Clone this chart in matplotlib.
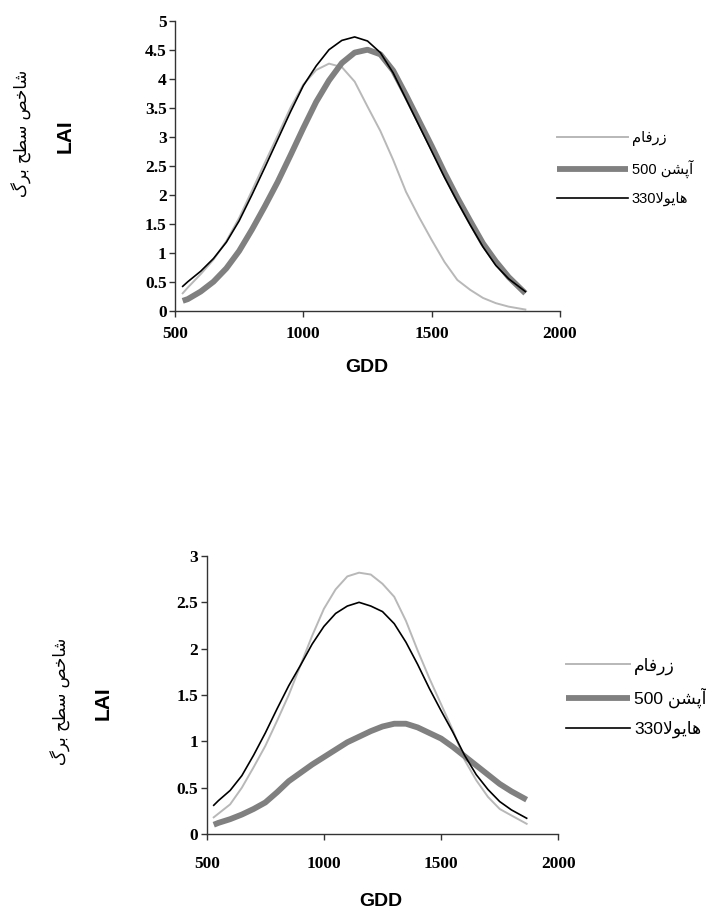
import matplotlib
matplotlib.use("Agg")
import matplotlib.pyplot as plt

# GDD points (same grid for both charts)
gdd = [530, 550, 600, 650, 700, 750, 800, 850, 900, 950, 1000, 1050, 1100, 1150,
       1200, 1250, 1300, 1350, 1400, 1450, 1500, 1550, 1600, 1650, 1700, 1750, 1800, 1865]

# top chart
top_zarfam = [0.30, 0.40, 0.63, 0.88, 1.20, 1.60, 2.07, 2.55, 3.02, 3.50, 3.90, 4.15, 4.26, 4.20,
              3.95, 3.52, 3.10, 2.60, 2.05, 1.62, 1.22, 0.84, 0.53, 0.36, 0.22, 0.13, 0.07, 0.02]
top_option = [0.17, 0.20, 0.33, 0.50, 0.73, 1.03, 1.40, 1.80, 2.22, 2.68, 3.15, 3.60, 3.97, 4.27,
              4.45, 4.50, 4.42, 4.14, 3.72, 3.28, 2.84, 2.38, 1.95, 1.55, 1.16, 0.85, 0.58, 0.30]
top_hy330 = [0.42, 0.50, 0.68, 0.90, 1.18, 1.55, 2.00, 2.47, 2.95, 3.43, 3.88, 4.22, 4.50, 4.66,
             4.72, 4.65, 4.45, 4.10, 3.65, 3.20, 2.75, 2.30, 1.88, 1.48, 1.10, 0.78, 0.55, 0.33]

# bottom chart
bot_zarfam = [0.18, 0.22, 0.32, 0.50, 0.72, 0.95, 1.22, 1.50, 1.82, 2.14, 2.43, 2.64, 2.78, 2.82,
              2.80, 2.70, 2.56, 2.30, 1.98, 1.68, 1.40, 1.12, 0.80, 0.58, 0.40, 0.27, 0.20, 0.11]
bot_option = [0.10, 0.12, 0.16, 0.21, 0.27, 0.34, 0.45, 0.57, 0.66, 0.75, 0.83, 0.91, 0.99, 1.05,
              1.11, 1.16, 1.19, 1.19, 1.15, 1.09, 1.03, 0.94, 0.84, 0.74, 0.64, 0.54, 0.46, 0.37]
bot_hy330 = [0.31, 0.36, 0.47, 0.63, 0.85, 1.09, 1.35, 1.60, 1.82, 2.05, 2.24, 2.38, 2.46, 2.50,
             2.46, 2.40, 2.27, 2.07, 1.83, 1.57, 1.33, 1.10, 0.85, 0.64, 0.48, 0.35, 0.26, 0.17]

# persian labels, written in presentation forms / visual order
lbl_zarfam = "\uFEE1\uFE8E\uFED3\uFEAD\uFEAF"
lbl_option = "500 \uFEE6\uFEB8\uFB58\uFE81"
lbl_hy330 = "330\uFEFB\uFEEE\uFEF3\uFE8E\uFEEB"
ylabel_fa = "\uFB92\uFEAE\uFE91 \uFEA2\uFEC4\uFEB3 \uFEBA\uFEA7\uFE8E\uFEB7"

W, H = 706, 914
fig = plt.figure(figsize=(W / 100, H / 100), dpi=100)


def px_axes(left, top, right, bottom):
    return fig.add_axes([left / W, 1 - bottom / H, (right - left) / W, (bottom - top) / H])


def draw_chart(ax, zarfam, option, hy330, ymax, xpad, leg, lai_xy, fa_xy, gdd_xy):
    l1, = ax.plot(gdd, zarfam, color="#b8b8b8", lw=1.4)
    l2, = ax.plot(gdd, option, color="#808080", lw=4.2, solid_capstyle="butt")
    l3, = ax.plot(gdd, hy330, color="black", lw=1.2)
    ax.set_xlim(500, 2000)
    ax.set_ylim(0, ymax)
    ax.set_xticks([500, 1000, 1500, 2000])
    ticks = [i * 0.5 for i in range(int(ymax * 2) + 1)]
    ax.set_yticks(ticks)
    ax.set_yticklabels([("%g" % t) for t in ticks])
    for s in ["top", "right"]:
        ax.spines[s].set_visible(False)
    for s in ["left", "bottom"]:
        ax.spines[s].set_color("#333333")
        ax.spines[s].set_linewidth(1.0)
    ax.tick_params(direction="out", length=4, width=1, color="#333333")
    ax.tick_params(axis="x", pad=xpad)
    ax.tick_params(axis="y", pad=2)
    for t in ax.get_xticklabels() + ax.get_yticklabels():
        t.set_fontfamily("Liberation Serif")
        t.set_fontweight("bold")
        t.set_fontsize(12.5)
    ax.set_facecolor("none")

    lx, ly, lsize, hlen, lspace = leg
    fig.legend([l1, l2, l3], [lbl_zarfam, lbl_option, lbl_hy330],
               loc="upper left", bbox_to_anchor=(lx / W, 1 - ly / H),
               frameon=False, borderpad=0, borderaxespad=0, handlelength=hlen,
               handletextpad=0.25, labelspacing=lspace,
               prop={"family": ["Liberation Sans", "DejaVu Sans"], "size": lsize})

    fig.text(lai_xy[0] / W, 1 - lai_xy[1] / H, "LAI", rotation=90, ha="center", va="center",
             family="Liberation Sans", fontweight="bold", fontsize=15)
    fig.text(fa_xy[0] / W, 1 - fa_xy[1] / H, ylabel_fa, rotation=90, ha="center", va="center",
             family="DejaVu Sans", fontsize=12)
    fig.text(gdd_xy[0] / W, 1 - gdd_xy[1] / H, "GDD", ha="center", va="center",
             family="Liberation Sans", fontweight="bold", fontsize=14)


ax1 = px_axes(175, 20.7, 560, 310.7)
draw_chart(ax1, top_zarfam, top_option, top_hy330, 5, 7,
           (557, 131.5, 10.5, 4.86, 0.92), (65, 136), (22, 133), (367, 368))

ax2 = px_axes(206.7, 556, 558.3, 834)
draw_chart(ax2, bot_zarfam, bot_option, bot_hy330, 3, 12,
           (566, 657.5, 12.5, 3.68, 0.74), (103, 703), (61, 701), (381, 902))

fig.savefig("out.png", dpi=100)
